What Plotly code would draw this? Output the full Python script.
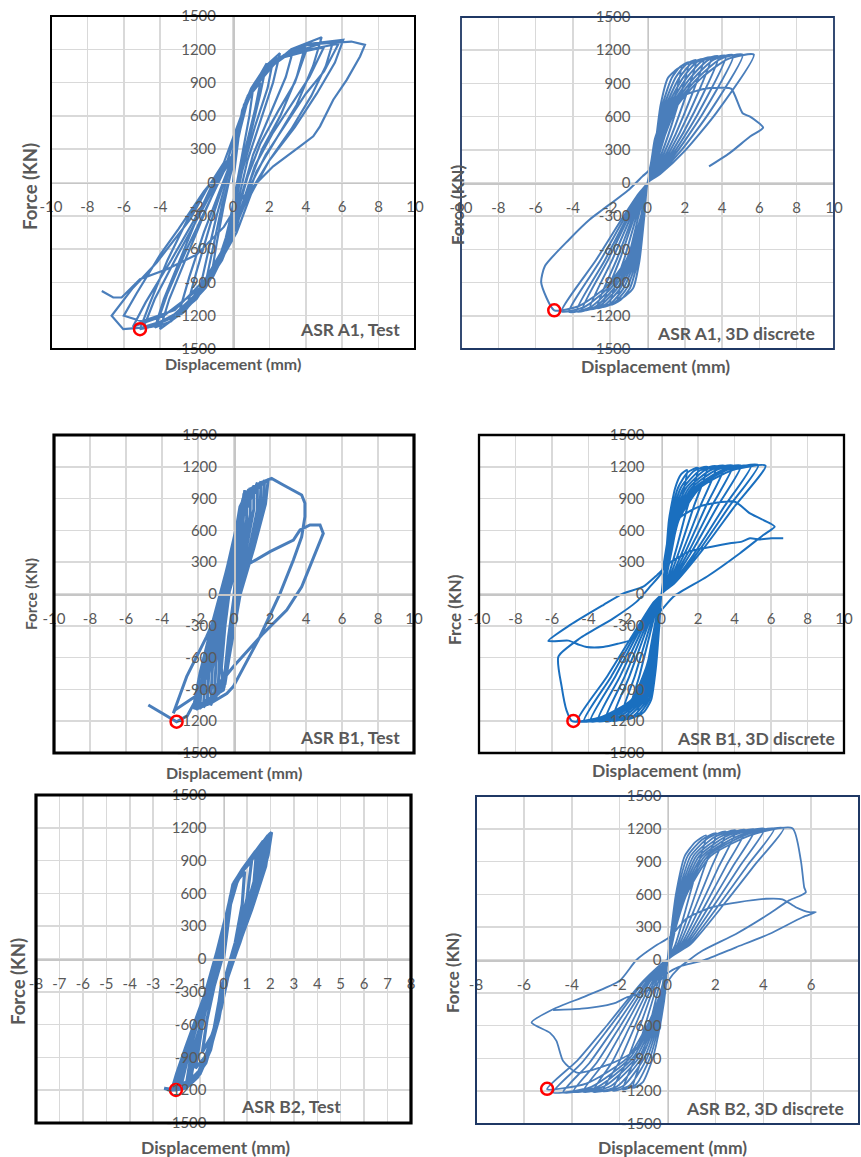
import plotly.graph_objects as go

W, H = 861, 1157

# ---------------- data (displacement mm, force kN) ----------------
a1_test_disp = [
    0, 0.3, 0.7, 1.12, 0.9, 0.4, 0, -0.4, -0.8, -1.2, -0.9, -0.5, -0.1,
    0.4, 0.9, 1.4, 1.85, 1.5, 0.9, 0.4, 0, -0.5, -1.1, -1.81, -1.4, -0.9, -0.3, 0,
    0.5, 1.0, 1.5, 1.2, 0.6, 0.1, -0.4, -0.9, -1.5, -1.1, -0.6, 0,
    0.5, 1.0, 1.8, 2.58, 2.2, 1.5, 0.8, 0.3, -0.3, -1.0, -2.0, -2.91, -2.4, -1.6, -0.8, -0.2,
    0.6, 1.3, 2.2, 1.9, 1.2, 0.5, 0, -0.7, -1.6, -2.5, -2.0, -1.2, -0.4, 0.1,
    0.6, 1.2, 2.3, 3.31, 2.9, 2.0, 1.1, 0.5, -0.2, -1.2, -2.6, -4.01, -3.5, -2.5, -1.5, -0.6, 0,
    0.7, 1.5, 2.8, 3.96, 3.5, 2.6, 1.6, 0.8, 0.2, -0.8, -2.2, -3.4, -4.29, -3.8, -2.8, -1.8, -0.8, 0,
    0.7, 1.4, 2.6, 4.0, 3.4, 2.5, 1.5, 0.8, 0.2, -0.5, -1.5, -2.8, -4.2, -3.6, -2.6, -1.5, -0.5, 0.1,
    0.75, 1.6, 3.2, 4.87, 4.4, 3.5, 2.4, 1.3, 0.5, -0.6, -2.0, -3.6, -5.11, -4.6, -3.6, -2.4, -1.2, -0.3,
    0.8, 1.7, 3.0, 5.0, 4.2, 3.2, 2.2, 1.2, 0.4, -0.6, -2.0, -3.5, -4.9, -4.3, -3.0, -1.8, -0.7, 0,
    0.8, 1.9, 3.8, 5.5, 5.1, 4.3, 3.2, 2.0, 1.0, 0.2, -1.0, -2.8, -4.5, -6.03, -6.67, -5.5, -4.19, -2.36, -1.45, -0.5,
    0.9, 2.0, 3.6, 5.8, 5.0, 4.0, 3.0, 1.8, 0.8, -0.2, -1.8, -3.8, -5.5, -4.8, -3.4, -2.0, -0.8, 0,
    0.8, 2.2, 4.2, 6.06, 5.6, 4.6, 3.4, 2.0, 0.9, 0, -1.4, -3.2, -5.0, -6.0, -5.3, -4.0, -3.0, -1.6, -0.6, 0,
    0.9, 2.6, 4.8, 6.5, 7.25, 6.98, 6.25, 5.51, 4.78, 4.41, 3.68, 2.21, 1.12, 0.4, -0.5, -2.0, -3.6, -5.11, -6.12, -6.58, -7.21,
]
a1_test_force = [
    0, 400, 700, 865, 600, 150, -200, -550, -750, -850, -550, -200, 100,
    550, 800, 950, 1075, 800, 400, 50, -300, -650, -850, -950, -650, -300, 50, 200,
    600, 800, 900, 650, 250, -150, -500, -750, -900, -600, -200, 150,
    650, 850, 1050, 1165, 900, 550, 200, -150, -500, -780, -1000, -1141, -850, -450, -100, 150,
    680, 900, 1100, 850, 500, 100, -300, -700, -950, -1100, -800, -350, 50, 200,
    700, 880, 1100, 1195, 950, 600, 250, -100, -480, -850, -1150, -1321, -1050, -650, -250, 80, 220,
    740, 950, 1150, 1225, 950, 600, 300, -50, -400, -750, -1050, -1250, -1306, -1050, -650, -250, 100, 250,
    720, 920, 1120, 1180, 900, 650, 350, 50, -300, -650, -950, -1180, -1280, -1000, -620, -250, 100, 250,
    760, 980, 1200, 1309, 1050, 700, 400, 100, -250, -700, -1050, -1270, -1321, -1100, -700, -300, 0, 200,
    770, 1000, 1150, 1220, 950, 700, 450, 150, -250, -650, -1000, -1230, -1300, -1050, -640, -280, 60, 230,
    780, 1060, 1230, 1270, 1050, 780, 480, 200, -100, -450, -800, -1150, -1300, -1321, -1201, -950, -721, -332, -63, 180,
    800, 1080, 1180, 1250, 1000, 800, 550, 250, -80, -500, -950, -1200, -1300, -1080, -700, -300, 60, 220,
    760, 1100, 1250, 1285, 1080, 800, 500, 200, -100, -450, -850, -1150, -1250, -1200, -1000, -650, -420, -80, 120, 220,
    800, 1130, 1250, 1270, 1240, 1135, 925, 746, 506, 416, 326, 146, -33, -160, -400, -650, -780, -872, -1036, -1036, -977,
]

a1_3d_disp = [
    0, 0.38, 0.7, 1.1, 1.45, 1.8, 1.17, 0.63, 0.22, 0, -0.17, -0.43, -0.77, -1.19, -1.6, -0.96, -0.48, -0.16,
    0, 0.41, 0.8, 1.3, 1.75, 2.2, 1.43, 0.77, 0.26, 0, -0.19, -0.51, -0.94, -1.47, -2.0, -1.2, -0.6, -0.2,
    0, 0.44, 0.9, 1.5, 2.05, 2.6, 1.69, 0.91, 0.31, 0, -0.21, -0.59, -1.11, -1.76, -2.4, -1.44, -0.72, -0.24,
    0, 0.47, 1.0, 1.7, 2.35, 3.0, 1.95, 1.05, 0.36, 0, -0.23, -0.67, -1.28, -1.99, -2.7, -1.62, -0.81, -0.27,
    0, 0.5, 1.1, 1.9, 2.65, 3.4, 2.21, 1.19, 0.41, 0, -0.25, -0.75, -1.45, -2.28, -3.1, -1.86, -0.93, -0.31,
    0, 0.53, 1.2, 2.1, 2.95, 3.8, 2.47, 1.33, 0.46, 0, -0.27, -0.83, -1.62, -2.56, -3.5, -2.1, -1.05, -0.35,
    0, 0.56, 1.3, 2.3, 3.25, 4.2, 2.73, 1.47, 0.5, 0, -0.29, -0.91, -1.79, -2.8, -3.8, -2.28, -1.14, -0.38,
    0, 0.59, 1.4, 2.5, 3.55, 4.6, 2.99, 1.61, 0.55, 0, -0.31, -0.99, -1.96, -3.08, -4.2, -2.52, -1.26, -0.42,
    0, 0.62, 1.5, 2.7, 3.9, 5.1, 3.32, 1.79, 0.61, 0, -0.33, -1.07, -2.13, -3.37, -4.6, -2.76, -1.38, -0.46,
    0, 0.65, 1.6, 2.9, 4.3, 5.7, 3.71, 2.0, 0.68, 0, -0.35, -1.15, -2.3, -3.65, -5.0,
    -5.7, -5.5, -4.2, -3.1, -2.4, -1.0, -0.27, 0.1, 0.4, 1.0, 1.8, 3.0, 4.0, 4.5, 5.1, 5.5, 6.2, 5.5, 4.4, 3.3,
]
a1_3d_force = [
    0, 300, 700, 950, 1010, 1050, 578, 263, 74, 0, -300, -700, -950, -1020, -1060, -636, -297, -85,
    0, 300, 700, 950, 1050, 1090, 600, 273, 76, 0, -300, -700, -950, -1060, -1100, -660, -308, -88,
    0, 300, 700, 950, 1070, 1110, 611, 278, 78, 0, -300, -700, -950, -1080, -1120, -672, -314, -90,
    0, 300, 700, 950, 1080, 1120, 616, 280, 78, 0, -300, -700, -950, -1090, -1130, -678, -316, -90,
    0, 300, 700, 950, 1095, 1135, 624, 284, 79, 0, -300, -700, -950, -1100, -1140, -684, -319, -91,
    0, 300, 700, 950, 1105, 1145, 630, 286, 80, 0, -300, -700, -950, -1110, -1150, -690, -322, -92,
    0, 300, 700, 950, 1110, 1150, 633, 288, 81, 0, -300, -700, -950, -1120, -1160, -696, -325, -93,
    0, 300, 700, 950, 1115, 1155, 635, 289, 81, 0, -300, -700, -950, -1125, -1165, -699, -326, -93,
    0, 300, 700, 950, 1120, 1160, 638, 290, 81, 0, -300, -700, -950, -1120, -1160, -696, -325, -93,
    0, 300, 700, 950, 1120, 1160, 638, 290, 81, 0, -300, -700, -950, -1110, -1150,
    -900, -750, -510, -330, -240, -60, 60, 120, 400, 650, 780, 850, 860, 850, 630, 600, 500, 420, 270, 150,
]

b1_test_disp = [
    0, 0.3, 0.55, 0.45, 0.1, -0.3, -0.6, -0.7, -0.5, -0.2,
    0.2, 0.6, 0.5, 0.15, -0.2, -0.6, -0.9, -0.8, -0.5, -0.1,
    0.3, 0.7, 0.7, 0.3, -0.1, -0.5, -1.1, -1.0, -0.6, -0.1,
    0.4, 0.9, 0.9, 0.5, 0.0, -0.4, -1.3, -1.2, -0.8, -0.3,
    0.2, 1.1, 1.1, 0.6, 0.05, -0.45, -1.5, -1.4, -0.9, -0.35,
    0.3, 1.3, 1.3, 0.8, 0.1, -0.5, -1.7, -1.6, -1.0, -0.4,
    0.4, 1.5, 1.45, 0.9, 0.2, -0.5, -1.9, -1.8, -1.1, -0.45,
    0.5, 1.7, 1.6, 1.0, 0.3, -0.55, -2.1, -1.95, -1.2, -0.4,
    0.5, 1.9, 1.75, 1.1, 0.35, -0.59, -2.26, -1.89, -1.15, -0.41, -0.04, 0.33, 0.8,
    1.5, 2.09, 2.74, 3.76, 3.94, 3.94, 3.76, 3.3, 2.56, 1.44, -0.04, -0.4, -1.2, -2.0, -1.6, -0.9, -0.3,
    0.3, 0.89, 2.0, 3.3, 3.67, 4.22, 4.78, 4.96, 4.5, 3.76, 2.93, 1.63, -0.04, -0.78, -1.89, -3.28, -3.37, -2.63, -1.52, -0.78, -0.22,
    0.2, -0.3, -0.8, -1.8, -2.6, -3.19, -4.76,
]
b1_test_force = [
    0, 500, 950, 600, 100, -400, -900, -700, -300, 100,
    500, 980, 650, 150, -350, -850, -950, -600, -150, 250,
    700, 970, 700, 200, -300, -800, -1000, -650, -150, 350,
    750, 1000, 750, 300, -200, -700, -1050, -700, -250, 250,
    600, 1020, 800, 350, -150, -750, -1050, -750, -250, 200,
    650, 1050, 800, 380, -100, -800, -1070, -800, -300, 200,
    750, 1060, 800, 400, -80, -850, -1080, -820, -250, 200,
    850, 1070, 800, 420, 0, -880, -1090, -800, -280, 230,
    900, 1080, 850, 430, 0, -906, -1079, -748, -245, 226, 446, 824, 980,
    1050, 1091, 1028, 934, 856, 729, 540, 321, 6, -403, -874, -940, -1020, -1080, -700, -250, 100,
    250, 290, 400, 509, 604, 651, 651, 572, 384, 69, -151, -371, -686, -843, -937, -1094, -1126, -780, -403, -120, 69,
    300, 0, -450, -900, -1150, -1205, -1047,
]

b1_3d_disp = [
    0, 0.22, 0.41, 0.75, 1.08, 1.4, 0.98, 0.56, 0.17, 0, -0.12, -0.31, -0.57, -0.94, -1.3, -0.85, -0.46, -0.13,
    0, 0.24, 0.47, 0.9, 1.45, 2.0, 1.4, 0.8, 0.24, 0, -0.14, -0.37, -0.69, -1.27, -1.85, -1.2, -0.65, -0.19,
    0, 0.26, 0.53, 1.05, 1.78, 2.5, 1.75, 1.0, 0.3, 0, -0.16, -0.43, -0.81, -1.53, -2.25, -1.46, -0.79, -0.23,
    0, 0.28, 0.59, 1.2, 2.1, 3.0, 2.1, 1.2, 0.36, 0, -0.18, -0.49, -0.93, -1.82, -2.7, -1.76, -0.95, -0.27,
    0, 0.3, 0.65, 1.35, 2.4, 3.45, 2.42, 1.38, 0.41, 0, -0.2, -0.55, -1.05, -2.08, -3.1, -2.02, -1.09, -0.31,
    0, 0.32, 0.71, 1.5, 2.7, 3.9, 2.73, 1.56, 0.47, 0, -0.22, -0.61, -1.17, -2.34, -3.5, -2.28, -1.23, -0.35,
    0, 0.34, 0.77, 1.65, 3.0, 4.35, 3.05, 1.74, 0.52, 0, -0.24, -0.67, -1.29, -2.6, -3.9, -2.54, -1.37, -0.39,
    0, 0.36, 0.83, 1.8, 3.35, 4.9, 3.43, 1.96, 0.59, 0, -0.26, -0.73, -1.41, -2.83, -4.25, -2.76, -1.49, -0.43,
    0, 0.38, 0.89, 1.95, 3.63, 5.3, 3.71, 2.12, 0.64, 0, -0.28, -0.79, -1.53, -3.07, -4.6, -2.99, -1.61, -0.46,
    0, 0.4, 0.95, 2.1, 3.9, 5.7, 3.99, 2.28, 0.68, 0, -0.3, -0.85, -1.65, -3.28, -4.9,
    -5.2, -5.47, -5.65, -4.47, -2.64, -1.36, -0.63, 0, 0.4, 1.0, 2.0, 3.0, 4.03, 4.85, 5.95, 6.2, 5.58, 4.3, 2.48, 0.65, 0,
    -0.8, -1.7, -2.4, -3.2, -4.1, -4.5, -5.1, -6.2, -5.0, -3.19, -2.09, -1.0, -0.3, 0.5, 1.5, 2.75, 3.75, 4.4, 4.85, 5.4, 6.0, 6.67,
]
b1_3d_force = [
    0, 300, 700, 1000, 1130, 1170, 796, 410, 94, 0, -300, -700, -1000, -1110, -1150, -748, -380, -81,
    0, 300, 700, 1000, 1150, 1190, 809, 417, 95, 0, -300, -700, -1000, -1140, -1180, -767, -389, -83,
    0, 300, 700, 1000, 1160, 1200, 816, 420, 96, 0, -300, -700, -1000, -1150, -1190, -774, -393, -83,
    0, 300, 700, 1000, 1165, 1205, 819, 422, 96, 0, -300, -700, -1000, -1155, -1195, -777, -394, -84,
    0, 300, 700, 1000, 1170, 1210, 823, 424, 97, 0, -300, -700, -1000, -1160, -1200, -780, -396, -84,
    0, 300, 700, 1000, 1170, 1210, 823, 424, 97, 0, -300, -700, -1000, -1160, -1200, -780, -396, -84,
    0, 300, 700, 1000, 1170, 1210, 823, 424, 97, 0, -300, -700, -1000, -1160, -1200, -780, -396, -84,
    0, 300, 700, 1000, 1170, 1210, 823, 424, 97, 0, -300, -700, -1000, -1160, -1200, -780, -396, -84,
    0, 300, 700, 1000, 1175, 1215, 826, 425, 97, 0, -300, -700, -1000, -1160, -1200, -780, -396, -84,
    0, 300, 700, 1000, 1170, 1210, 823, 424, 97, 0, -300, -700, -1000, -1160, -1200,
    -1100, -874, -590, -418, -230, -72, 69, 200, 550, 720, 820, 860, 871, 761, 667, 635, 557, 385, 163, -25, -150,
    -280, -434, -470, -500, -500, -480, -440, -443, -292, -104, 6, 69, 170, 300, 400, 446, 478, 494, 525, 515, 525, 525,
]

b2_test_disp = [
    0, 0.3, 0.6, 0.9, 0.8, 0.5, 0.2, -0.1, -0.5, -0.9, -0.7, -0.4, 0,
    0.35, 0.8, 1.2, 1.0, 0.6, 0.1, -0.2, -0.6, -1.2, -0.9, -0.5, -0.1,
    0.4, 0.9, 1.4, 1.3, 0.9, 0.4, -0.1, -0.4, -0.9, -1.5, -1.2, -0.7, -0.2,
    0.3, 0.6, 1.0, 1.5, 1.4, 1.0, 0.5, 0.1, -0.2, -0.5, -0.9, -1.4, -1.2, -0.8, -0.4, 0,
    0.2, 0.5, 1.0, 1.6, 1.5, 1.1, 0.5, 0, -0.3, -0.7, -1.2, -1.8, -1.5, -1.0, -0.5, -0.1,
    0.4, 0.85, 1.3, 1.75, 1.55, 1.15, 0.65, 0.15, -0.2, -0.55, -1.0, -1.55, -1.35, -0.85, -0.35, 0.05,
    0.3, 0.7, 1.2, 1.8, 1.7, 1.3, 0.7, 0.1, -0.25, -0.6, -1.1, -2.0, -1.7, -1.2, -0.7, -0.2,
    0.25, 0.55, 0.95, 1.7, 1.6, 1.2, 0.7, 0.2, -0.15, -0.45, -0.85, -1.5, -1.9, -1.6, -1.1, -0.6, -0.15,
    0.2, 0.45, 0.9, 1.5, 2.05, 1.9, 1.5, 1.0, 0.45, -0.1, -0.3, -0.7, -1.2, -1.6, -2.1, -1.9, -1.5, -1.0, -0.5, -0.1,
    0.35, 0.75, 1.25, 1.95, 1.85, 1.45, 0.9, 0.35, -0.1, -0.35, -0.75, -1.3, -2.0, -1.8, -1.3, -0.8, -0.3,
    0.3, 0.7, 1.3, 1.9, 1.8, 1.4, 0.8, 0.3, -0.2, -0.5, -1.0, -1.6, -1.4, -0.9, -0.4, 0,
    0.15, 0.4, 0.8, 1.35, 1.95, 1.75, 1.35, 0.85, 0.4, 0, -0.3, -0.65, -1.15, -1.75, -2.2, -2.0, -1.6, -1.1, -0.55, -0.05,
    0.25, 0.6, 1.1, 2.0, 1.8, 1.2, 0.6, 0, -0.4, -0.9, -1.7, -2.3, -2.53, -2.3, -2.03,
]
b2_test_force = [
    0, 500, 720, 800, 500, 150, -150, -450, -700, -850, -550, -250, 50,
    600, 800, 900, 550, 200, -200, -550, -850, -1000, -600, -200, 100,
    650, 830, 960, 700, 350, 0, -350, -700, -1000, -1120, -800, -350, 50,
    580, 750, 870, 1000, 780, 480, 150, -150, -480, -780, -1000, -1100, -850, -500, -150, 200,
    450, 700, 880, 1040, 800, 450, 50, -250, -600, -900, -1080, -1150, -880, -500, -150, 150,
    680, 820, 950, 1070, 780, 480, 180, -150, -500, -830, -1050, -1150, -880, -520, -180, 180,
    550, 780, 920, 1100, 850, 550, 150, -200, -550, -850, -1080, -1190, -950, -650, -300, 100,
    500, 730, 860, 1080, 850, 560, 230, -100, -420, -720, -980, -1130, -1170, -900, -560, -230, 120,
    480, 700, 850, 1020, 1160, 950, 650, 350, 0, -250, -560, -850, -1100, -1180, -1200, -1080, -830, -480, -150, 130,
    600, 790, 940, 1140, 920, 650, 320, -30, -350, -650, -950, -1120, -1195, -980, -640, -330, 50,
    560, 780, 960, 1130, 900, 600, 250, -80, -400, -750, -1050, -1170, -900, -550, -200, 150,
    400, 680, 820, 980, 1130, 880, 560, 250, -30, -280, -600, -880, -1090, -1180, -1195, -1050, -800, -500, -180, 160,
    520, 740, 900, 1150, 850, 450, 100, -250, -650, -1000, -1170, -1190, -1183, -1200, -1198,
]

b2_3d_disp = [
    0, 0.17, 0.35, 0.72, 1.17, 1.61, 1.21, 0.81, 0.32, 0, -0.07, -0.31, -0.62, -1.04, -1.45, -1.09, -0.73, -0.29,
    0, 0.19, 0.4, 0.84, 1.44, 2.03, 1.52, 1.02, 0.41, 0, -0.09, -0.37, -0.74, -1.3, -1.86, -1.4, -0.93, -0.37,
    0, 0.21, 0.45, 0.96, 1.7, 2.44, 1.83, 1.22, 0.49, 0, -0.11, -0.43, -0.86, -1.57, -2.28, -1.71, -1.14, -0.46,
    0, 0.23, 0.5, 1.08, 1.97, 2.85, 2.14, 1.43, 0.57, 0, -0.13, -0.49, -0.98, -1.84, -2.7, -2.03, -1.35, -0.54,
    0, 0.25, 0.55, 1.2, 2.23, 3.25, 2.44, 1.63, 0.65, 0, -0.15, -0.55, -1.1, -2.1, -3.11, -2.33, -1.56, -0.62,
    0, 0.27, 0.6, 1.32, 2.49, 3.65, 2.74, 1.83, 0.73, 0, -0.17, -0.61, -1.22, -2.38, -3.53, -2.65, -1.77, -0.71,
    0, 0.29, 0.65, 1.44, 2.75, 4.05, 3.04, 2.03, 0.81, 0, -0.19, -0.67, -1.34, -2.64, -3.94, -2.96, -1.97, -0.79,
    0, 0.31, 0.7, 1.56, 3.01, 4.45, 3.34, 2.23, 0.89, 0, -0.21, -0.73, -1.46, -2.91, -4.36, -3.27, -2.18, -0.87,
    0, 0.33, 0.75, 1.68, 3.27, 4.85, 3.64, 2.43, 0.97, 0, -0.23, -0.79, -1.58, -3.18, -4.78, -3.59, -2.39, -0.96,
    0, 0.35, 0.8, 1.8, 3.51, 5.22, 5.57, 5.71, 5.78, 5.57, 5.08, 4.25, 2.86, 1.47, 0.5, 0,
    -0.85, -1.7, -3.4, -5.03, -3.77, -2.5, -1.0, 0,
    -0.3, -0.8, -1.5, -2.5, -3.78, -4.36, -4.64, -4.92, -5.68, -4.78, -3.39, -2.0, -1.3, -0.5, 0.1,
    0.8, 1.8, 2.93, 4.11, 4.8, 5.36, 5.92, 6.2, 5.64, 4.25, 2.86, 1.47, 0.5, 0,
    -0.6, -1.2, -1.72, -2.14, -2.7, -3.6, -4.78,
]
b2_3d_force = [
    0, 300, 600, 950, 1080, 1140, 821, 502, 137, 0, -250, -600, -900, -1120, -1170, -913, -585, -187,
    0, 300, 600, 950, 1100, 1160, 835, 510, 139, 0, -250, -600, -900, -1135, -1185, -924, -593, -190,
    0, 300, 600, 950, 1115, 1175, 846, 517, 141, 0, -250, -600, -900, -1145, -1195, -932, -598, -191,
    0, 300, 600, 950, 1125, 1185, 853, 521, 142, 0, -250, -600, -900, -1150, -1200, -936, -600, -192,
    0, 300, 600, 950, 1130, 1190, 857, 524, 143, 0, -250, -600, -900, -1155, -1205, -940, -603, -193,
    0, 300, 600, 950, 1135, 1195, 860, 526, 143, 0, -250, -600, -900, -1155, -1205, -940, -603, -193,
    0, 300, 600, 950, 1140, 1200, 864, 528, 144, 0, -250, -600, -900, -1155, -1205, -940, -603, -193,
    0, 300, 600, 950, 1140, 1200, 864, 528, 144, 0, -250, -600, -900, -1160, -1210, -944, -605, -194,
    0, 300, 600, 950, 1145, 1205, 868, 530, 145, 0, -250, -600, -900, -1160, -1210, -944, -605, -194,
    0, 300, 600, 950, 1145, 1205, 911, 666, 620, 590, 545, 422, 238, 86, -68, -200,
    -600, -900, -1130, -1180, -920, -590, -189, 0,
    -300, -650, -850, -960, -1031, -924, -740, -664, -572, -450, -328, -190, 0, 130, 210,
    380, 480, 528, 560, 555, 483, 437, 437, 391, 238, 116, -6, -60, -120,
    -250, -310, -343, -389, -419, -445, -459,
]

# red circled points (peak marked in each panel)
peak_disp = [-5.11, -5.0, -3.19, -4.83, -2.03, -5.03]
peak_force = [-1321, -1150, -1205, -1198, -1198, -1178]

# tick labels
x_ticks_10 = [-10, -8, -6, -4, -2, 0, 2, 4, 6, 8, 10]
x_ticks_8_step1 = [-8, -7, -6, -5, -4, -3, -2, -1, 0, 1, 2, 3, 4, 5, 6, 7, 8]
x_ticks_8_step2 = [-8, -6, -4, -2, 0, 2, 4, 6, 8]
y_ticks = [-1500, -1200, -900, -600, -300, 0, 300, 600, 900, 1200, 1500]

panel_labels = ["ASR A1, Test", "ASR A1, 3D discrete", "ASR B1, Test",
                "ASR B1, 3D discrete", "ASR B2, Test", "ASR B2, 3D discrete"]
y_titles = ["Force (KN)", "Force (KN)", "Force (KN)", "Frce (KN)", "Force (KN)", "Force (KN)"]
x_title = "Displacement (mm)"

series = [(a1_test_disp, a1_test_force), (a1_3d_disp, a1_3d_force),
          (b1_test_disp, b1_test_force), (b1_3d_disp, b1_3d_force),
          (b2_test_disp, b2_test_force), (b2_3d_disp, b2_3d_force)]

# ---------------- layout / style (pixels) ----------------
BLUE = "#4a7ebb"
styles = [
    dict(box=(51, 16, 415, 349), xr=10, xt=x_ticks_10, color=BLUE, lw=2.2, shape="linear",
         border="#000000", bw=2, lab=(402, 330), yt=(30, 187), yts=18.5, xtp=(233, 363), xts=16, ysd=14),
    dict(box=(461, 17, 834, 349), xr=10, xt=x_ticks_10, color=BLUE, lw=2.0, shape="spline",
         border="#1f3864", bw=1.8, lab=(817, 333), yt=(458, 205), yts=17, xtp=(655, 366), xts=17.5, ysd=14),
    dict(box=(54, 435, 414, 753), xr=10, xt=x_ticks_10, color=BLUE, lw=3.0, shape="linear",
         border="#000000", bw=3.2, lab=(402, 737), yt=(31, 594), yts=15.3, xtp=(234, 772), xts=16, ysd=14),
    dict(box=(479, 435, 844, 753), xr=10, xt=x_ticks_10, color="#1a6fbf", lw=2.0, shape="spline",
         border="#000000", bw=2.3, lab=(837, 738), yt=(455, 610), yts=17, xtp=(666, 770), xts=17.5, ysd=14),
    dict(box=(36, 795, 411, 1123), xr=8, xt=x_ticks_8_step1, color=BLUE, lw=3.2, shape="linear",
         border="#000000", bw=3.2, lab=(343, 1106), yt=(18, 982), yts=18.5, xtp=(215, 1147), xts=17.5, ysd=14),
    dict(box=(476, 796, 859, 1124), xr=8, xt=x_ticks_8_step2, color=BLUE, lw=1.8, shape="spline",
         border="#1f3864", bw=2, lab=(846, 1108), yt=(452, 973), yts=17, xtp=(672, 1147), xts=17.5, ysd=3),
]

FONT = "Lato, Carlito, sans-serif"
TICKFONT = dict(family=FONT, size=15, color="#595959")
TITLECOL = "#595959"

fig = go.Figure()
layout = dict(width=W, height=H, margin=dict(l=0, r=0, t=0, b=0, pad=0, autoexpand=False),
              paper_bgcolor="white", plot_bgcolor="white", showlegend=False)
annotations = []
shapes = []

for i, (st, (dx, fy)) in enumerate(zip(styles, series), start=1):
    x0, y0, x1, y1 = st["box"]
    xd = [x0 / W, x1 / W]
    yd = [1 - y1 / H, 1 - y0 / H]
    xs = "" if i == 1 else str(i)
    layout["xaxis" + xs] = dict(
        domain=xd, range=[-st["xr"], st["xr"]], anchor="free", position=(yd[0] + yd[1]) / 2,
        tickmode="array", tickvals=st["xt"], ticktext=[str(v) for v in st["xt"]],
        showgrid=True, gridcolor="#d9d9d9", gridwidth=1.5, zeroline=False,
        showline=True, linecolor="#c6c6c6", linewidth=1.5, ticks="", automargin=False,
        tickfont=TICKFONT, ticklabelstandoff=10, fixedrange=True)
    layout["yaxis" + xs] = dict(
        domain=yd, range=[-1500, 1500], anchor="free", position=(xd[0] + xd[1]) / 2,
        tickmode="array", tickvals=y_ticks, ticktext=[str(v) for v in y_ticks],
        showgrid=True, gridcolor="#d9d9d9", gridwidth=1.5, zeroline=False,
        showline=True, linecolor="#c6c6c6", linewidth=1.5, ticks="", automargin=False,
        tickfont=TICKFONT, ticklabelstandoff=st["ysd"], fixedrange=True)

    fig.add_trace(go.Scatter(
        x=dx, y=fy, mode="lines", xaxis="x" + xs, yaxis="y" + xs,
        line=dict(color=st["color"], width=st["lw"], shape=st["shape"], smoothing=0.6),
        hoverinfo="skip"))
    fig.add_trace(go.Scatter(
        x=[peak_disp[i - 1]], y=[peak_force[i - 1]], mode="markers", xaxis="x" + xs, yaxis="y" + xs,
        marker=dict(symbol="circle-open", size=12, color="#ff0000", line=dict(width=2.5, color="#ff0000")),
        hoverinfo="skip"))

    shapes.append(dict(type="rect", xref="paper", yref="paper", x0=xd[0], x1=xd[1], y0=yd[0], y1=yd[1],
                       line=dict(color=st["border"], width=st["bw"]), fillcolor="rgba(0,0,0,0)", layer="above"))

    lx, ly = st["lab"]
    annotations.append(dict(text="<b>%s</b>" % panel_labels[i - 1], xref="paper", yref="paper",
                            x=lx / W, y=1 - ly / H, xanchor="right", yanchor="middle", showarrow=False,
                            font=dict(family=FONT, size=17.5, color=TITLECOL)))
    tx, ty = st["yt"]
    annotations.append(dict(text="<b>%s</b>" % y_titles[i - 1], xref="paper", yref="paper",
                            x=tx / W, y=1 - ty / H, xanchor="center", yanchor="middle", showarrow=False,
                            textangle=-90, font=dict(family=FONT, size=st["yts"], color=TITLECOL)))
    dxp, dyp = st["xtp"]
    annotations.append(dict(text="<b>%s</b>" % x_title, xref="paper", yref="paper",
                            x=dxp / W, y=1 - dyp / H, xanchor="center", yanchor="middle", showarrow=False,
                            font=dict(family=FONT, size=st["xts"], color=TITLECOL)))

layout["annotations"] = annotations
layout["shapes"] = shapes
fig.update_layout(**layout)
fig.write_html("out.html", config={"displayModeBar": False, "staticPlot": True},
               post_script="document.body.style.margin='0';document.body.style.overflow='hidden';")
